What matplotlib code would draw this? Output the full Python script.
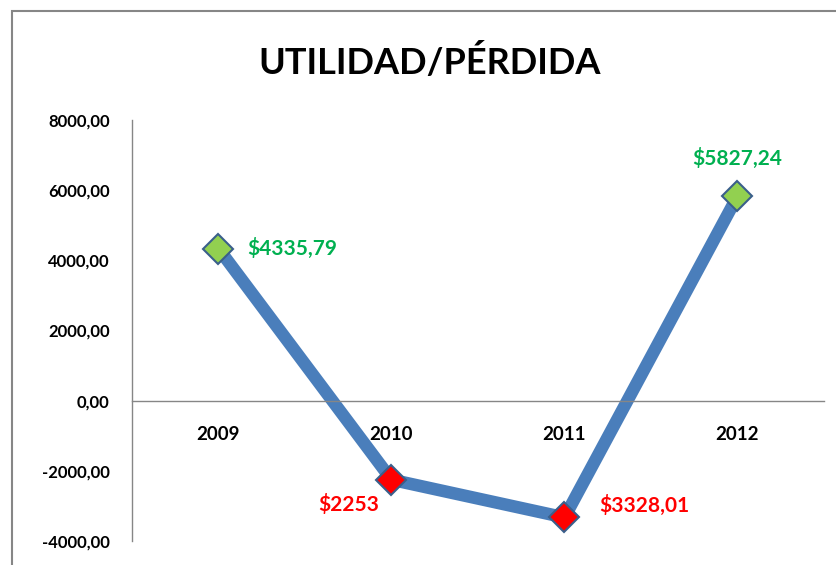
import matplotlib
matplotlib.use('Agg')
import matplotlib.pyplot as plt
from matplotlib.patches import Rectangle

# Data
years = ['2009', '2010', '2011', '2012']
resultados = [4335.79, -2253.00, -3328.01, 5827.24]
etiquetas = ['$4335,79', '$2253', '$3328,01', '$5827,24']
y_ticks = [-4000, -2000, 0, 2000, 4000, 6000, 8000]

plt.rcParams['font.family'] = ['Lato', 'DejaVu Sans']
plt.rcParams['font.weight'] = 'bold'

fig = plt.figure(figsize=(8.37, 5.65), dpi=100)
ax = fig.add_axes([132 / 837, 1 - 541 / 565, 692 / 837, 421 / 565])

x = [i + 0.5 for i in range(len(years))]
ax.plot(x, resultados, color='#4A7EBB', linewidth=9, solid_capstyle='butt',
        solid_joinstyle='round', zorder=2)

# diamonds: green for profit, red for loss
for xi, val in zip(x, resultados):
    color = '#92D050' if val >= 0 else '#FF0000'
    ax.plot(xi, val, marker='D', markersize=15, markerfacecolor=color,
            markeredgecolor='#3A5F8B', markeredgewidth=1.5, zorder=3)

# data labels (offsets in pixels)
offsets = [(29, 0, 'left'), (-12, -25, 'right'), (35, 12, 'left'), (0, 38, 'center')]
for xi, val, lab, (dx, dy, ha) in zip(x, resultados, etiquetas, offsets):
    color = '#00B050' if val >= 0 else '#FF0000'
    ax.annotate(lab, (xi, val), xytext=(dx, dy), textcoords='offset pixels',
                ha=ha, va='center', color=color, fontsize=15, fontweight='bold')

ax.set_xlim(0, 4)
ax.set_ylim(-4000, 8000)
ax.set_yticks(y_ticks)
ax.set_yticklabels([f'{v:.2f}'.replace('.', ',') for v in y_ticks])
ax.set_xticks(x)
ax.set_xticklabels(years)
ax.tick_params(axis='both', length=0, labelsize=12)
ax.tick_params(axis='y', pad=16)
ax.tick_params(axis='x', pad=18, labelsize=13.5)

for s in ['top', 'right']:
    ax.spines[s].set_visible(False)
ax.spines['bottom'].set_position(('data', 0))
ax.spines['bottom'].set_color('#868686')
ax.spines['left'].set_color('#868686')
ax.spines['bottom'].set_linewidth(1)
ax.spines['left'].set_linewidth(1)

fig.text(430 / 837, 1 - 62 / 565, 'UTILIDAD/PÉRDIDA', ha='center', va='center',
         fontsize=26, fontweight='bold')

# chart frame (cut off at right and bottom like the screenshot)
fig.patches.append(Rectangle((12 / 837, -0.1), 1.0, 1.1 - 11 / 565,
                             transform=fig.transFigure, fill=False,
                             edgecolor='#868686', linewidth=1.5))

fig.savefig('out.png', dpi=100)
